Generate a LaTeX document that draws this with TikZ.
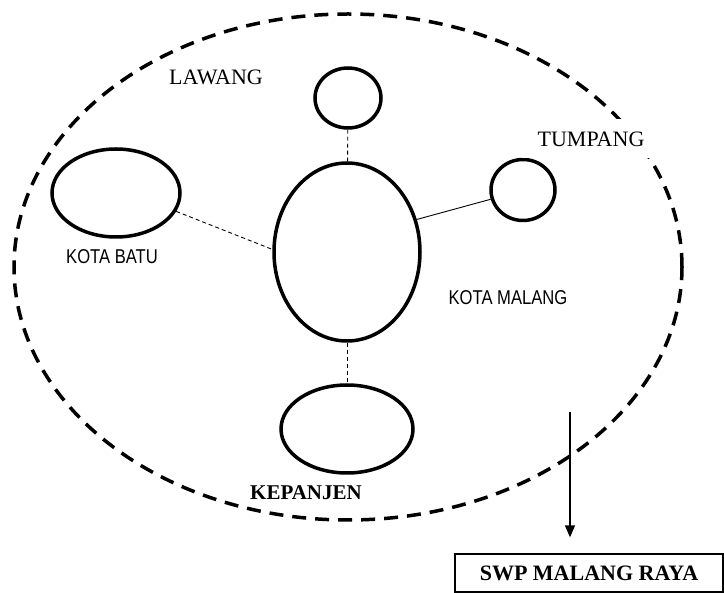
\documentclass[tikz,border=0pt]{standalone}
\usepackage{fontspec}
\setmainfont{Liberation Serif}
\newfontfamily\narrowsans[FakeStretch=0.83]{Liberation Sans}
\usetikzlibrary{shapes.geometric,arrows.meta}
\begin{document}
\begin{tikzpicture}[x=1pt,y=-1pt,
  town/.style={ellipse, draw, line width=3.5pt, inner sep=0pt},
  link/.style={line width=0.9pt},
  dlink/.style={line width=0.9pt, dash pattern=on 4pt off 3pt},
  serif/.style={font=\fontsize{22}{26}\selectfont},
  sans/.style={font=\narrowsans\fontsize{20}{24}\selectfont}]
\useasboundingbox (0,0) rectangle (724,593);
\node[ellipse, draw, line width=3.5pt, dash pattern=on 14pt off 9pt, minimum width=668pt, minimum height=506pt] (area) at (348,267) {};
\node[town, minimum width=146pt, minimum height=178pt] (malang) at (347,252) {};
\node[town, minimum width=66pt, minimum height=60pt] (lawang) at (348,98) {};
\node[town, minimum width=128pt, minimum height=88pt] (batu) at (116,193) {};
\node[town, minimum width=64pt, minimum height=61pt] (tumpang) at (523,190) {};
\node[town, minimum width=132pt, minimum height=88pt] (kepanjen) at (347,429) {};
\draw[dlink](lawang) -- (malang);
\draw[dlink](batu.-17) -- (malang.178);
\draw[link](tumpang.196) -- (malang.25);
\draw[dlink](malang) -- (kepanjen);
\node[serif, fill=white, minimum width=138pt, minimum height=39pt] (ltumpang) at (591,139) {TUMPANG};
\node[serif] (llawang) at (216,77) {LAWANG};
\node[sans] (lbatu) at (112,257) {KOTA BATU};
\node[sans] (lmalang) at (508,298) {KOTA MALANG};
\node[font=\bfseries\fontsize{21}{25}\selectfont] (lkepanjen) at (306,493) {KEPANJEN};
\node[draw, line width=1.3pt, minimum width=268pt, minimum height=38pt, font=\bfseries\fontsize{22}{26}\selectfont] (swp) at (589,573) {SWP MALANG RAYA};
\coordinate (arrtop) at (570,412);
\draw[-{Triangle[width=10pt,length=12pt]}, line width=1.5pt, shorten >=16pt](arrtop) -- (arrtop |- swp.north);
\end{tikzpicture}
\end{document}
